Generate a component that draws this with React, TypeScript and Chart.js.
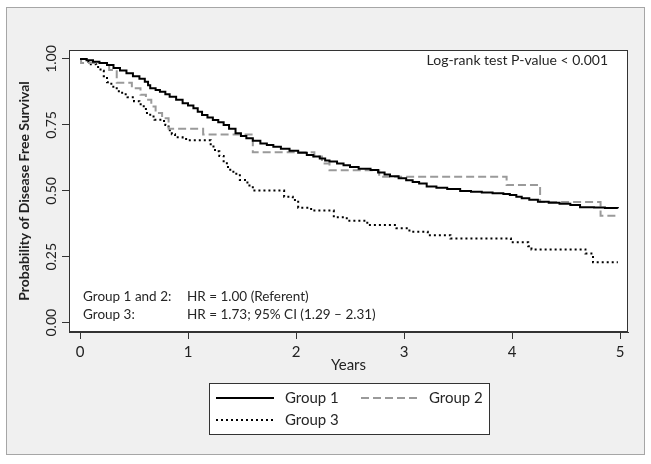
import { useEffect, useRef } from "react";
import { Chart, registerables } from "chart.js";

Chart.register(...registerables);

const FONT = "Lato, 'Open Sans', 'DejaVu Sans', sans-serif";

// ---------- data ----------
const seriesNames = ["Group 1", "Group 2", "Group 3"];
const xTickValues = [0, 1, 2, 3, 4, 5];
const yTickValues = [0, 0.25, 0.5, 0.75, 1];

const g1Years = [0, 0.06, 0.12, 0.18, 0.25, 0.31, 0.37, 0.43, 0.49, 0.55, 0.6, 0.63, 0.65, 0.7, 0.74, 0.79, 0.83, 0.89, 0.95, 1.0, 1.05, 1.09, 1.13, 1.18, 1.23, 1.28, 1.33, 1.38, 1.44, 1.49, 1.54, 1.6, 1.67, 1.73, 1.79, 1.86, 1.94, 2.02, 2.1, 2.16, 2.22, 2.27, 2.31, 2.38, 2.44, 2.5, 2.58, 2.69, 2.76, 2.82, 2.87, 2.95, 3.02, 3.08, 3.14, 3.21, 3.3, 3.4, 3.52, 3.62, 3.72, 3.82, 3.92, 3.98, 4.04, 4.09, 4.16, 4.24, 4.34, 4.44, 4.54, 4.63, 4.76, 4.86, 4.98];
const g1Surv = [1.0, 0.995, 0.99, 0.985, 0.977, 0.966, 0.956, 0.946, 0.935, 0.925, 0.914, 0.9, 0.889, 0.882, 0.876, 0.866, 0.857, 0.845, 0.832, 0.824, 0.813, 0.8, 0.788, 0.778, 0.769, 0.76, 0.75, 0.735, 0.718, 0.708, 0.699, 0.69, 0.68, 0.674, 0.667, 0.66, 0.652, 0.644, 0.636, 0.63, 0.623, 0.615, 0.611, 0.604, 0.597, 0.59, 0.584, 0.579, 0.57, 0.562, 0.555, 0.548, 0.54, 0.534, 0.528, 0.516, 0.512, 0.507, 0.499, 0.497, 0.494, 0.491, 0.488, 0.484, 0.478, 0.472, 0.466, 0.459, 0.455, 0.451, 0.446, 0.438, 0.437, 0.435, 0.434];

const g2Years = [0, 0.01, 0.27, 0.34, 0.48, 0.56, 0.61, 0.66, 0.7, 0.76, 0.82, 1.14, 1.6, 2.17, 2.24, 2.31, 2.77, 3.95, 4.26, 4.82, 4.98];
const g2Surv = [1.0, 0.985, 0.958, 0.91, 0.889, 0.864, 0.845, 0.82, 0.795, 0.775, 0.735, 0.714, 0.646, 0.63, 0.604, 0.578, 0.553, 0.522, 0.458, 0.406, 0.406];

const g3Years = [0, 0.06, 0.1, 0.15, 0.19, 0.22, 0.25, 0.29, 0.34, 0.39, 0.44, 0.5, 0.55, 0.59, 0.61, 0.65, 0.69, 0.76, 0.79, 0.82, 0.85, 0.88, 0.95, 1.0, 1.21, 1.25, 1.29, 1.33, 1.37, 1.42, 1.48, 1.55, 1.6, 1.89, 1.97, 2.02, 2.14, 2.35, 2.47, 2.66, 2.93, 3.05, 3.22, 3.43, 3.99, 4.15, 4.18, 4.68, 4.75, 4.98];
const g3Surv = [1.0, 0.99, 0.98, 0.97, 0.955, 0.935, 0.912, 0.895, 0.878, 0.866, 0.855, 0.84, 0.828, 0.815, 0.795, 0.782, 0.77, 0.765, 0.75, 0.73, 0.715, 0.703, 0.697, 0.692, 0.668, 0.65, 0.632, 0.605, 0.58, 0.565, 0.541, 0.52, 0.501, 0.478, 0.465, 0.436, 0.425, 0.4, 0.387, 0.37, 0.358, 0.345, 0.332, 0.319, 0.305, 0.29, 0.278, 0.262, 0.229, 0.229];

const xTitle = "Years";
const yTitle = "Probability of Disease Free Survival";
const logRankText = "Log-rank test P-value < 0.001";
const hrLabels = ["Group 1 and 2:", "Group 3:"];
const hrValues = ["HR = 1.00 (Referent)", "HR = 1.73; 95% CI (1.29 \u2013 2.31)"];

const toPoints = (xs: number[], ys: number[]) => xs.map((x, i) => ({ x, y: ys[i] }));

const framePlugin = {
  id: "frame",
  beforeDraw(chart: any) {
    const { ctx, width, height, chartArea: a } = chart;
    ctx.save();
    ctx.fillStyle = "#ffffff";
    ctx.fillRect(0, 0, width, height);
    ctx.fillStyle = "#f0f0f0";
    ctx.fillRect(6, 7, 639, 448);
    ctx.strokeStyle = "#a6a6a6";
    ctx.lineWidth = 1;
    ctx.strokeRect(6.5, 7.5, 638, 447);
    ctx.fillStyle = "#ffffff";
    ctx.fillRect(a.left, a.top, a.right - a.left, a.bottom - a.top);
    ctx.restore();
  },
  afterDraw(chart: any) {
    const { ctx, chartArea: a } = chart;
    ctx.save();
    // plot box
    ctx.strokeStyle = "#333333";
    ctx.lineWidth = 1;
    ctx.strokeRect(Math.round(a.left) + 0.5, Math.round(a.top) + 0.5, Math.round(a.right - a.left) - 1, Math.round(a.bottom - a.top) - 1);

    // annotations
    ctx.fillStyle = "#262626";
    ctx.font = `14px ${FONT}`;
    ctx.textBaseline = "middle";
    ctx.textAlign = "right";
    ctx.fillText(logRankText, 608, 60);
    ctx.textAlign = "left";
    ctx.font = `13.5px ${FONT}`;
    ctx.fillText(hrLabels[0], 83, 297);
    ctx.fillText(hrValues[0], 187, 297);
    ctx.fillText(hrLabels[1], 83, 315);
    ctx.fillText(hrValues[1], 187, 315);

    // legend
    const lx = 209, ly = 383, lw = 280, lh = 51;
    ctx.fillStyle = "#ffffff";
    ctx.fillRect(lx, ly, lw, lh);
    ctx.strokeStyle = "#333333";
    ctx.strokeRect(lx + 0.5, ly + 0.5, lw, lh);
    const items = [
      { x: 216, y: 398, tx: 285 },
      { x: 361, y: 398, tx: 429 },
      { x: 216, y: 420, tx: 285 },
    ];
    chart.data.datasets.forEach((ds: any, i: number) => {
      const it = items[i];
      ctx.save();
      ctx.strokeStyle = ds.borderColor;
      ctx.lineWidth = ds.borderWidth;
      ctx.setLineDash(ds.borderDash || []);
      ctx.beginPath();
      ctx.moveTo(it.x, it.y);
      ctx.lineTo(it.x + 58, it.y);
      ctx.stroke();
      ctx.restore();
      ctx.fillStyle = "#262626";
      ctx.font = `15px ${FONT}`;
      ctx.textAlign = "left";
      ctx.textBaseline = "middle";
      ctx.fillText(ds.label, it.tx, it.y);
    });
    ctx.restore();
  },
};

export default function App() {
  const ref = useRef<HTMLCanvasElement | null>(null);
  useEffect(() => {
    if (!ref.current) return;
    const chart = new Chart(ref.current, {
      type: "line",
      data: {
        datasets: [
          {
            label: seriesNames[0],
            data: toPoints(g1Years, g1Surv),
            borderColor: "#000000",
            borderWidth: 2,
            borderDash: [],
            stepped: "before",
            pointRadius: 0,
            fill: false,
          },
          {
            label: seriesNames[1],
            data: toPoints(g2Years, g2Surv),
            borderColor: "#9a9a9a",
            borderWidth: 2,
            borderDash: [8, 4],
            stepped: "before",
            pointRadius: 0,
            fill: false,
          },
          {
            label: seriesNames[2],
            data: toPoints(g3Years, g3Surv),
            borderColor: "#000000",
            borderWidth: 2,
            borderDash: [2, 3],
            stepped: "before",
            pointRadius: 0,
            fill: false,
          },
        ],
      },
      options: {
        responsive: false,
        animation: false,
        events: [],
        layout: { padding: { left: 0, top: 50, right: 23, bottom: 0 } },
        plugins: { legend: { display: false }, tooltip: { enabled: false } },
        scales: {
          x: {
            type: "linear",
            min: -0.102,
            max: 5.074,
            afterBuildTicks: (s: any) => {
              s.ticks = xTickValues.map((v) => ({ value: v }));
            },
            afterFit: (s: any) => {
              s.height = 132;
            },
            grid: { display: true, drawOnChartArea: false, drawTicks: true, tickLength: 7, color: "#333333" },
            border: { display: true, color: "#333333" },
            ticks: {
              font: { family: FONT, size: 15 },
              color: "#222222",
              padding: 4,
              maxRotation: 0,
              autoSkip: false,
              callback: (v: any) => String(v),
            },
            title: {
              display: true,
              text: xTitle,
              font: { family: FONT, size: 15 },
              color: "#222222",
              padding: { top: 0, bottom: 90 },
            },
          },
          y: {
            type: "linear",
            min: -0.0353,
            max: 1.0341,
            afterBuildTicks: (s: any) => {
              s.ticks = yTickValues.map((v) => ({ value: v }));
            },
            afterFit: (s: any) => {
              s.width = 69;
            },
            grid: { display: true, drawOnChartArea: false, drawTicks: true, tickLength: 7, color: "#333333" },
            border: { display: true, color: "#333333" },
            ticks: {
              font: { family: FONT, size: 14 },
              color: "#222222",
              minRotation: 90,
              maxRotation: 90,
              crossAlign: "center",
              padding: -3,
              autoSkip: false,
              callback: (v: any) => Number(v).toFixed(2),
            },
            title: {
              display: true,
              text: yTitle,
              font: { family: FONT, size: 14, weight: "bold" },
              color: "#222222",
              padding: { top: 16, bottom: 0 },
            },
          },
        },
      },
      plugins: [framePlugin],
    } as any);
    return () => chart.destroy();
  }, []);
  return (
    <div style={{ position: "fixed", left: 0, top: 0, width: 651, height: 464 }}>
      <canvas ref={ref} width={651} height={464} style={{ display: "block", width: 651, height: 464 }} />
    </div>
  );
}
